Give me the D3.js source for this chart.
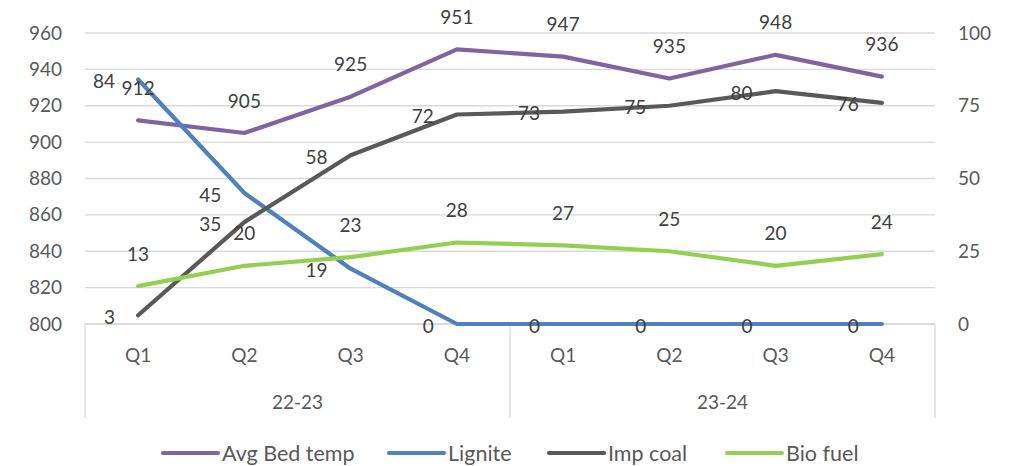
<!DOCTYPE html>
<html><head><meta charset="utf-8">
<script src="https://cdn.jsdelivr.net/npm/d3@7"></script>
<style>body{margin:0;background:#fff;} text{font-family:Lato,"Open Sans",sans-serif;}</style>
</head><body><svg id="c" width="1020" height="466"></svg>
<script>
const quarters = ["Q1","Q2","Q3","Q4","Q1","Q2","Q3","Q4"];
const years = ["22-23","23-24"];
const avgBedTemp = [912,905,925,951,947,935,948,936];
const lignite = [84,45,19,0,0,0,0,0];
const impCoal = [3,35,58,72,73,75,80,76];
const bioFuel = [13,20,23,28,27,25,20,24];
const leftTicks = [800,820,840,860,880,900,920,940,960];
const rightTicks = [0,25,50,75,100];

const svg = d3.select("#c");
const L = 85, R = 935, T = 33, B = 324;
const x = d3.scaleBand().domain(d3.range(8)).range([L, R]);
const cx = i => x(i) + x.bandwidth()/2;
const yL = d3.scaleLinear().domain([800,960]).range([B,T]);
const yR = d3.scaleLinear().domain([0,100]).range([B,T]);
const axisCol = "#595959", labCol = "#404040", gridCol = "#d9d9d9";
const fs = 19;

// grid
svg.append("g").selectAll("line").data(leftTicks).join("line")
  .attr("x1",L).attr("x2",R).attr("y1",d=>yL(d)).attr("y2",d=>yL(d))
  .attr("stroke",gridCol).attr("stroke-width",1.3);

// left axis
const la = svg.append("g").attr("transform",`translate(${L},0)`)
  .call(d3.axisLeft(yL).tickValues(leftTicks).tickSize(0).tickPadding(23));
la.select(".domain").remove();
la.selectAll("text").attr("font-size",fs).attr("fill",axisCol).attr("font-family","Lato");

// right axis
const ra = svg.append("g").attr("transform",`translate(${R},0)`)
  .call(d3.axisRight(yR).tickValues(rightTicks).tickSize(0).tickPadding(23));
ra.select(".domain").remove();
ra.selectAll("text").attr("font-size",fs).attr("fill",axisCol).attr("font-family","Lato");

// category axis
svg.append("line").attr("x1",L).attr("x2",R).attr("y1",B).attr("y2",B).attr("stroke",gridCol).attr("stroke-width",1.3);
[L, (L+R)/2, R].forEach(xx=>{
  svg.append("line").attr("x1",xx).attr("x2",xx).attr("y1",B).attr("y2",418)
    .attr("stroke",gridCol).attr("stroke-width",1.3);
});
svg.append("g").selectAll("text").data(quarters).join("text")
  .attr("x",(d,i)=>cx(i)).attr("y",355).attr("dy","0.35em")
  .attr("text-anchor","middle").attr("font-size",fs).attr("fill",axisCol).text(d=>d);
const yb = d3.scaleBand().domain(years).range([L,R]);
svg.append("g").selectAll("text").data(years).join("text")
  .attr("x",d=>yb(d)+yb.bandwidth()/2).attr("y",402).attr("dy","0.35em")
  .attr("text-anchor","middle").attr("font-size",fs).attr("fill",axisCol).text(d=>d);

const series = [
  {name:"Avg Bed temp", data:avgBedTemp, y:yL, color:"#8064a2", pos:"above"},
  {name:"Lignite", data:lignite, y:yR, color:"#4f81bd", pos:"left"},
  {name:"Imp coal", data:impCoal, y:yR, color:"#595959", pos:"left"},
  {name:"Bio fuel", data:bioFuel, y:yR, color:"#92d050", pos:"above"}
];

series.forEach(s=>{
  const line = d3.line().x((d,i)=>cx(i)).y(d=>s.y(d));
  svg.append("path").datum(s.data).attr("d",line).attr("fill","none")
    .attr("stroke",s.color).attr("stroke-width",4.2).attr("stroke-linecap","round").attr("stroke-linejoin","round");
});
series.forEach(s=>{
  svg.append("g").selectAll("text").data(s.data).join("text")
    .attr("x",(d,i)=> s.pos==="left" ? cx(i)-23 : cx(i))
    .attr("y",d=> s.pos==="left" ? s.y(d)+2 : s.y(d)-32)
    .attr("dy","0.35em")
    .attr("text-anchor", s.pos==="left" ? "end" : "middle")
    .attr("font-size",fs).attr("fill",labCol).text(d=>d);
});

// legend
const legX = [163, 389, 549, 727];
const lg = svg.append("g");
series.forEach((s,i)=>{
  lg.append("line").attr("x1",legX[i]).attr("x2",legX[i]+55).attr("y1",453).attr("y2",453)
    .attr("stroke",s.color).attr("stroke-width",4.2).attr("stroke-linecap","round");
  lg.append("text").attr("x",legX[i]+59).attr("y",453).attr("dy","0.35em")
    .attr("font-size",21.5).attr("fill",axisCol).text(s.name);
});
</script></body></html>
